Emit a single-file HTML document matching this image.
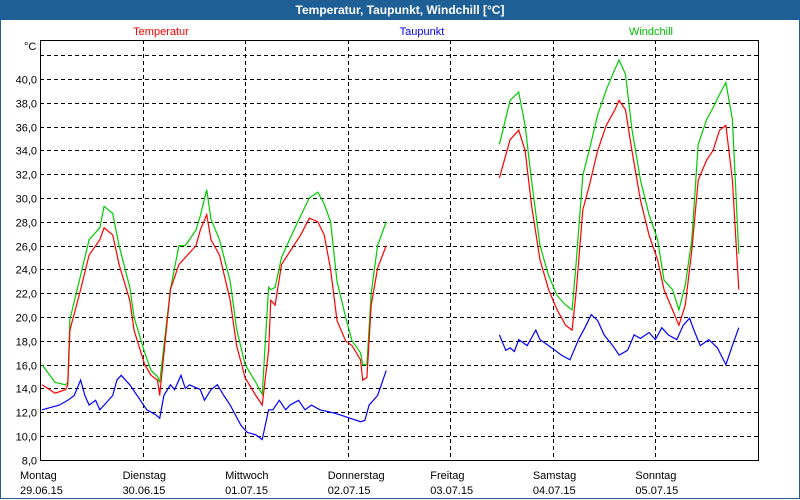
<!DOCTYPE html>
<html><head><meta charset="utf-8"><style>
body{margin:0;width:800px;height:500px;overflow:hidden;background:#fff;font-family:"Liberation Sans",sans-serif}
#frame{position:absolute;left:0;top:0;width:798px;height:498px;border:1px solid #1e5f96;border-top:none}
#title{position:absolute;left:0;top:0;width:800px;height:20px;background:#1e5f96;color:#fff;font-weight:bold;font-size:12px;text-align:center;line-height:20px}
</style></head><body>
<div id="frame"></div>
<div id="title">Temperatur, Taupunkt, Windchill [°C]</div>
<svg id="chart" width="800" height="500" style="position:absolute;left:0;top:0"></svg>
<script>
const yTicks=[8,10,12,14,16,18,20,22,24,26,28,30,32,34,36,38,40,42];
const dayNames=["Montag","Dienstag","Mittwoch","Donnerstag","Freitag","Samstag","Sonntag"];
const dayDates=["29.06.15","30.06.15","01.07.15","02.07.15","03.07.15","04.07.15","05.07.15"];
const legendNames=["Temperatur","Taupunkt","Windchill"];
const t1=[0.5,3.5,6,6.5,7,9.5,11.5,14,15,17,18.5,21,22,24.5,26,27.5,28,30.5,32.5,34,36.5,37.5,39,40,42,44.5,46,48,50.5,52,53.5,54,55,56.5,59,61,63,65,66.5,68,69.5,71.5,73,75,75.5,76.5,77.5,79,81];
const temp1=[14.3,13.6,13.9,14.3,18.9,22.3,25.2,26.5,27.5,26.9,24.4,21.4,18.9,16.0,15.1,14.7,13.4,22.3,24.4,25,26,27.3,28.6,26.5,25.2,21.4,17.6,14.9,13.4,12.6,17.2,21.4,21,24.4,25.8,26.9,28.3,28,26.9,24,19.7,18,17.6,16.4,14.7,14.9,21,24.1,26];
const wind1=[16,14.5,14.3,14.5,19.8,23.5,26.5,27.5,29.3,28.7,26,22.5,20,17,15.5,15,14.5,22.3,26,26,27.3,28.5,30.7,28.2,26.5,23,19,16,14.5,13.5,22.5,22.3,22.5,25,27,28.5,30,30.5,29.5,28,23,20,18,17,16,16,22,26,28];
const t2=[107.5,110,112,113.5,115,117,119,121,123,124.5,125.5,127,128.5,130.5,132.5,134.5,135.5,137,138.5,140.5,142.5,144.5,146,148,149.5,151,152.5,154,156,157.5,159,160.5,162,163.5];
const temp2=[31.7,34.9,35.7,34,29.4,24.8,22.3,20.6,19.3,18.9,22.3,29,31,34,36.1,37.4,38.2,37.4,34,29.8,26.9,24.8,22.3,20.6,19.3,21,25.6,31.5,33.2,34,35.7,36.1,31.5,22.3];
const wind2=[34.5,38.2,38.9,36.1,31.5,26,23.5,21.8,21,20.6,24.8,31.9,34,37,39.1,40.8,41.6,40.4,35.8,31.5,28.6,26.5,23.1,22.3,20.6,22.7,26.5,34.5,36.6,37.6,38.7,39.7,36.6,25.3];
const tb1=[0.5,2.5,4.5,6.5,8,9.5,10.5,11.5,13,14,15,17,18,19,21,23.5,25,27,28,29,30.5,31.5,33,34,35,37.5,38.5,40,41.5,43,44.5,47,48.5,50.5,52,53.5,54.5,56,57.5,58.5,60.5,62,63.5,65.5,68,70,72.5,75,76,77,79,81];
const dew1=[12.2,12.4,12.6,13,13.4,14.7,13.4,12.6,13,12.2,12.6,13.4,14.7,15.1,14.3,13,12.2,11.8,11.5,13.4,14.3,13.9,15.1,14,14.3,13.9,13,13.9,14.3,13.4,12.6,10.9,10.3,10.1,9.7,12.2,12.2,13,12.2,12.6,13,12.2,12.6,12.2,12,11.8,11.5,11.2,11.3,12.6,13.4,15.5];
const tb2=[107.5,109,110,111,112,114,116,117,119,120.5,122,124,126,127.5,129,130.5,132,134,135.5,137.5,139,140.5,142.5,144,145.5,147,149,150.5,152,153,154.5,156.5,158.5,160.5,162,163.5];
const dew2=[18.5,17.2,17.4,17.1,18.1,17.6,18.9,18.1,17.6,17.2,16.8,16.4,18.1,19.1,20.2,19.7,18.5,17.6,16.8,17.2,18.5,18.2,18.7,18.1,19.1,18.5,18.1,19.3,19.9,18.9,17.6,18.1,17.4,16,17.6,19.1];
const L=40,R=758,T=40,B=460;
const xs=h=>L+h*(R-L)/168;
const ys=v=>79+(40-v)*11.9;
const svg=document.getElementById('chart');const NS='http://www.w3.org/2000/svg';
function mk(tag,attrs,name){const e=document.createElementNS(NS,tag);for(const k in attrs)e.setAttribute(k,attrs[k]);


svg.appendChild(e);return e;}
yTicks.forEach(v=>{const y=Math.round(ys(v))+0.5;
mk('line',{x1:L,x2:R,y1:y,y2:y,stroke:'#000','stroke-dasharray':'4,3'},'y-gridline');
if(v<=40){const t=mk('text',{x:37,y:y+4,'text-anchor':'end','font-size':11},'y-tick-label');t.textContent=v.toFixed(1).replace('.',',');}});
for(let d=1;d<7;d++){const x=Math.round(xs(d*24))+0.5;mk('line',{x1:x,x2:x,y1:T,y2:B,stroke:'#000','stroke-dasharray':'4,3'},'x-gridline');}
dayNames.forEach((n,i)=>{const x=xs(i*24)-20;
const a=mk('text',{x:x,y:479,'font-size':11},'day-label');a.textContent=n;
const b=mk('text',{x:x,y:494,'font-size':11},'date-label');b.textContent=dayDates[i];});
mk('rect',{x:L+0.5,y:T+0.5,width:R-L,height:B-T,fill:'none',stroke:'#000'},'plot-border');
const u=mk('text',{x:24,y:50,'font-size':11},'y-unit-label');u.textContent='°C';
const lg=[[161,'#f00'],[422,'#00f'],[651,'#0b0']];
legendNames.forEach((n,i)=>{const t=mk('text',{x:lg[i][0],y:35,'font-size':11,'text-anchor':'middle',fill:lg[i][1]},'legend-'+n.toLowerCase());t.textContent=n;});
function line(ts,vs,c,name){mk('polyline',{points:ts.map((t,i)=>xs(t).toFixed(1)+','+ys(vs[i]).toFixed(1)).join(' '),fill:'none',stroke:c,'stroke-width':1.2},name);}
line(t1,wind1,'#0c0','windchill-line-1');line(t2,wind2,'#0c0','windchill-line-2');
line(t1,temp1,'#f00','temperature-line-1');line(t2,temp2,'#f00','temperature-line-2');
line(tb1,dew1,'#00f','dewpoint-line-1');line(tb2,dew2,'#00f','dewpoint-line-2');
</script>
</body></html>
